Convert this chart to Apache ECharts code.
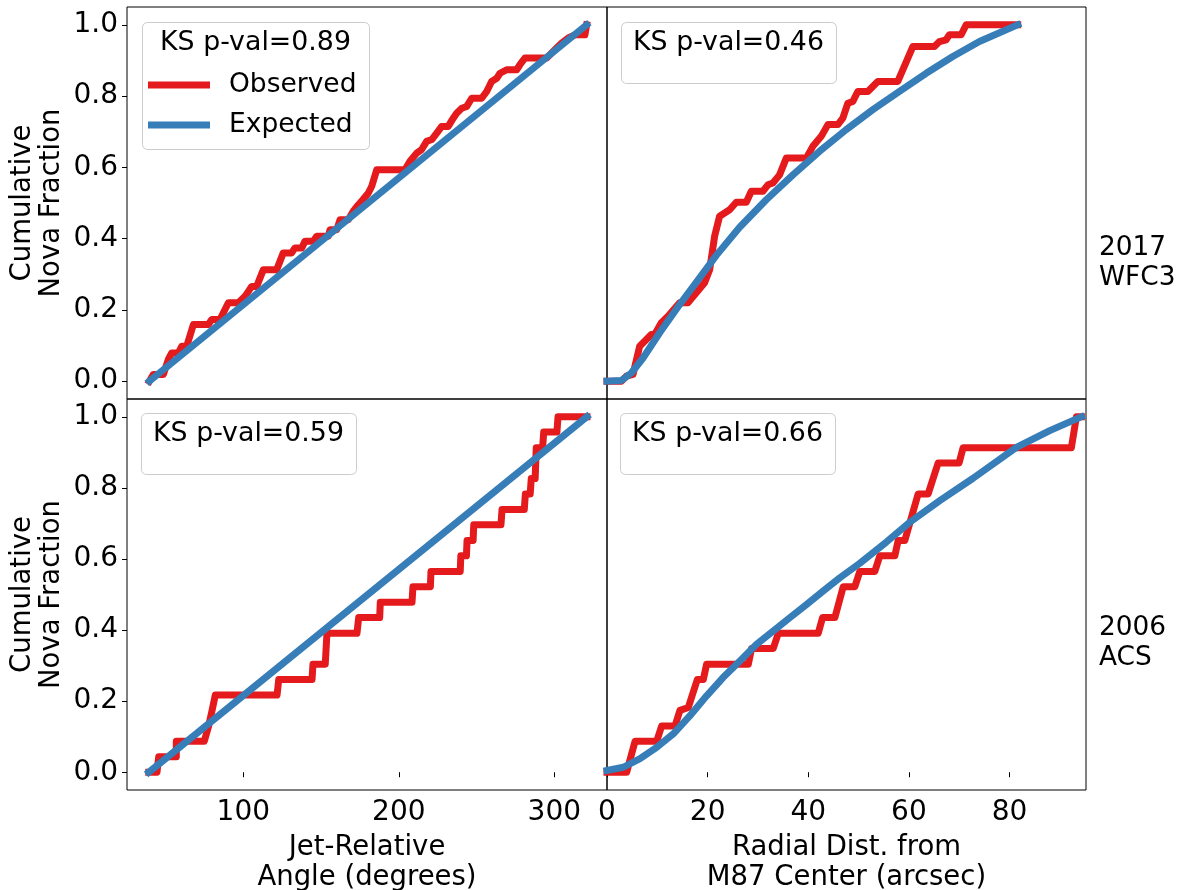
<!DOCTYPE html>
<html>
<head>
<meta charset="utf-8">
<script src="https://cdn.jsdelivr.net/npm/echarts@6/dist/echarts.min.js"></script>
<style>
  html, body { margin: 0; padding: 0; background: #fff; }
  #chart { width: 1179px; height: 890px; }
</style>
</head>
<body>
<div id="chart"></div>
<script>
// 2017 WFC3, jet-relative angle (degrees) vs cumulative fraction
var angleObs2017 = [[39.6,0],[42.1,0.019],[48.6,0.019],[51.8,0.061],[53.9,0.079],[58.2,0.079],[60.4,0.098],[63.6,0.098],
    [67.9,0.159],[77.5,0.159],[79.7,0.173],[85,0.173],[90.4,0.22],[96.8,0.22],[101.1,0.238],[105.4,0.266],[108.6,0.266],
    [112.9,0.313],[121.5,0.313],[125.7,0.36],[131.1,0.36],[133.2,0.374],[137.6,0.374],[139.7,0.393],[145,0.393],
    [147.2,0.407],[154.7,0.407],[155.8,0.425],[160.1,0.425],[162.2,0.453],[167.5,0.453],[170.7,0.477],[174,0.495],
    [176.1,0.505],[180.4,0.528],[182.6,0.547],[185.8,0.593],[204,0.593],[207.2,0.617],[211.5,0.64],[214.7,0.65],
    [217.9,0.673],[221.2,0.678],[224.4,0.696],[227.6,0.715],[231.8,0.715],[235,0.738],[237.2,0.752],[240.5,0.766],
    [243.7,0.771],[246.9,0.794],[253.3,0.794],[256.5,0.813],[259.7,0.841],[263,0.85],[265.1,0.864],[269.4,0.874],
    [275.8,0.874],[277.9,0.888],[281.2,0.907],[295.1,0.907],[298.3,0.921],[301.5,0.935],[304.8,0.949],[309,0.963],
    [313.3,0.972],[319.7,0.972],[320.8,1.0]];
var angleExp2017 = [[39.6,0],[320.8,1]];

// 2017 WFC3, radial distance (arcsec)
var distObs2017 = [[0,0],[2.85,0],[3.85,0.014],[5.17,0.019],[6.49,0.098],[7.49,0.112],[8.81,0.131],[9.47,0.131],
    [10.8,0.164],[12.12,0.182],[14.44,0.22],[16.09,0.22],[17.75,0.248],[19.4,0.276],[20.4,0.313],[21.39,0.407],
    [22.38,0.463],[23.38,0.472],[24.37,0.481],[25.7,0.502],[27.68,0.502],[28.68,0.533],[30.98,0.533],[31.98,0.551],
    [32.97,0.556],[34.3,0.579],[35.63,0.626],[39.6,0.626],[40.91,0.659],[42.58,0.687],[43.9,0.72],[45.88,0.72],
    [46.87,0.738],[47.87,0.78],[48.86,0.785],[49.85,0.813],[51.84,0.813],[53.82,0.841],[57.8,0.841],[60.78,0.939],
    [65.08,0.939],[66.08,0.953],[67.4,0.958],[68.06,0.972],[70.39,0.972],[71.38,1.0],[81.63,1.0]];
var distExp2017 = [[0,0],[2.85,0.002],[4.84,0.023],[7.16,0.065],[10.47,0.136],[14.44,0.215],[18.41,0.29],
    [21.72,0.353],[26.36,0.432],[31.65,0.509],[36.95,0.579],[42.24,0.645],[47.54,0.706],[52.84,0.762],
    [58.13,0.813],[63.43,0.864],[68.73,0.911],[74.02,0.953],[81.63,1.0]];

// 2006 ACS, jet-relative angle
var angleObs2006 = [[39.2,0],[44.5,0],[45.6,0.0435],[56.9,0.0435],[56.9,0.087],[74.9,0.087],[77.7,0.13],[79.9,0.174],
    [82,0.217],[121.7,0.217],[122.8,0.261],[144.2,0.261],[144.8,0.304],[152.7,0.304],[153.8,0.391],[173.1,0.391],
    [174.2,0.435],[187.7,0.435],[188.1,0.478],[208.5,0.478],[209.1,0.522],[220.3,0.522],[220.7,0.565],[239.5,0.565],
    [239.9,0.609],[243.5,0.609],[243.9,0.652],[247.8,0.652],[248.2,0.696],[265.7,0.696],[266.4,0.739],[280.7,0.739],
    [281.4,0.783],[284.5,0.783],[285.2,0.826],[287.7,0.826],[288.4,0.913],[292.5,0.913],[293.2,0.957],[301.7,0.957],
    [302.4,1.0],[321,1.0]];
var angleExp2006 = [[39.2,0],[321,1]];

// 2006 ACS, radial distance
var distObs2006 = [[0,0],[3.91,0],[5.57,0.087],[9.87,0.087],[10.86,0.13],[13.51,0.13],[14.5,0.174],[16.16,0.182],
    [17.95,0.261],[19.14,0.261],[19.8,0.304],[28.08,0.304],[28.74,0.348],[33.04,0.348],[34.04,0.391],[41.98,0.391],
    [42.84,0.435],[45.29,0.435],[46.95,0.522],[49.26,0.522],[50.25,0.565],[53.23,0.565],[54.23,0.609],[57.21,0.609],
    [57.87,0.652],[59.19,0.652],[61.84,0.783],[63.83,0.783],[65.81,0.87],[69.98,0.87],[70.78,0.913],[92.29,0.913],
    [93.29,1.0],[94.28,1.0]];
var distExp2006 = [[0,0.005],[3.25,0.014],[6.56,0.038],[9.87,0.07],[13.18,0.108],[16.49,0.159],[19.8,0.215],
    [23.11,0.267],[26.42,0.313],[29.73,0.36],[33.04,0.397],[36.35,0.435],[39.66,0.472],[42.97,0.51],
    [46.28,0.547],[50.25,0.588],[55.55,0.648],[60.25,0.704],[66.14,0.764],[72.76,0.827],[81.37,0.914],
    [87.99,0.961],[94.28,1.0]];

// tick labels
var angleTicks = [100, 200, 300];
var distTicks = [0, 20, 40, 60, 80];
var fracTicks = [0, 0.2, 0.4, 0.6, 0.8, 1.0];

// panel texts
var ksPvals = ['0.89', '0.46', '0.59', '0.66'];
var rowLabels = ['2017\nWFC3', '2006\nACS'];

var FONT = 'DejaVu Sans';
var RED = '#e41a1c';
var BLUE = '#377eb8';

var grids = [
    {left: 127, top: 7, width: 480, height: 392},
    {left: 607, top: 7, width: 479, height: 392},
    {left: 127, top: 399, width: 480, height: 391},
    {left: 607, top: 399, width: 479, height: 391}
];

function xAxisFor(i) {
    var isAngle = (i % 2 === 0);
    var bottom = (i >= 2);
    return {
        type: 'value',
        gridIndex: i,
        min: isAngle ? 25.2 : 0,
        max: isAngle ? 333.9 : 95.2,
        splitLine: {show: false},
        axisLine: {show: false},
        axisTick: {show: bottom, length: 5, customValues: isAngle ? angleTicks : distTicks,
            lineStyle: {color: '#000', width: 1}},
        axisLabel: {show: bottom, customValues: isAngle ? angleTicks : distTicks, margin: 9,
            fontFamily: FONT, fontSize: 28, color: '#000'},
        name: bottom ? (isAngle ? 'Jet-Relative\nAngle (degrees)' : 'Radial Dist. from\nM87 Center (arcsec)') : '',
        nameLocation: 'middle',
        nameGap: 43,
        nameTextStyle: {fontFamily: FONT, fontSize: 27.5, color: '#000', lineHeight: 30}
    };
}

function yAxisFor(i) {
    var left = (i % 2 === 0);
    return {
        type: 'value',
        gridIndex: i,
        min: -0.05,
        max: 1.05,
        splitLine: {show: false},
        axisLine: {show: false},
        axisTick: {show: left, length: 5, customValues: fracTicks, lineStyle: {color: '#000', width: 1}},
        axisLabel: {show: left, customValues: fracTicks, margin: 9, fontFamily: FONT, fontSize: 28, color: '#000',
            formatter: function(v) { return v.toFixed(1); }},
        name: left ? 'Cumulative\nNova Fraction' : '',
        nameLocation: 'middle',
        nameGap: 61,
        nameTextStyle: {fontFamily: FONT, fontSize: 27.5, color: '#000', lineHeight: 29}
    };
}

function lineSeries(name, data, i, color, z) {
    return {
        name: name,
        type: 'line',
        xAxisIndex: i,
        yAxisIndex: i,
        data: data,
        symbol: 'none',
        clip: false,
        z: z,
        color: color,
        lineStyle: {color: color, width: 7, cap: 'square', join: 'round'}
    };
}

// legend frames and KS texts
var boxes = [
    {x: 142, y: 22, w: 227, h: 127, tx: 255.5, ty: 43},
    {x: 621, y: 22, w: 215, h: 61, tx: 728.5, ty: 43},
    {x: 141, y: 413, w: 215, h: 61, tx: 248.5, ty: 434},
    {x: 620, y: 413, w: 215, h: 61, tx: 727.5, ty: 434}
];
var graphics = [];
boxes.forEach(function(b, i) {
    graphics.push({
        type: 'rect', z: 5,
        shape: {x: b.x + 0.5, y: b.y + 0.5, width: b.w, height: b.h, r: 5},
        style: {fill: 'rgba(255,255,255,0.8)', stroke: '#cccccc', lineWidth: 1}
    });
    graphics.push({
        type: 'text', z: 6, x: b.tx, y: b.ty,
        style: {text: 'KS p-val=' + ksPvals[i], fill: '#000', font: '26.8px "' + FONT + '"',
            textAlign: 'center', textVerticalAlign: 'middle'}
    });
});
rowLabels.forEach(function(t, i) {
    graphics.push({
        type: 'text', z: 6, x: 1099, y: i === 0 ? 263 : 643,
        style: {text: t, fill: '#000', font: '26.4px "' + FONT + '"', lineHeight: 30,
            textAlign: 'left', textVerticalAlign: 'middle'}
    });
});

var chart = echarts.init(document.getElementById('chart'), null, {renderer: 'canvas'});
chart.setOption({
    animation: false,
    backgroundColor: '#fff',
    grid: grids.map(function(g) {
        return {left: g.left, top: g.top, width: g.width, height: g.height, show: true,
            outerBoundsMode: 'none', containLabel: false,
            borderColor: '#000', borderWidth: 1, backgroundColor: 'transparent'};
    }),
    xAxis: [0, 1, 2, 3].map(xAxisFor),
    yAxis: [0, 1, 2, 3].map(yAxisFor),
    legend: {
        data: ['Observed', 'Expected'],
        orient: 'vertical',
        left: 148,
        top: 70,
        padding: 0,
        itemGap: 10,
        itemWidth: 62,
        itemHeight: 7,
        icon: 'rect',
        z: 7,
        selectedMode: false,
        textStyle: {fontFamily: FONT, fontSize: 26.5, color: '#000', lineHeight: 30, padding: [0, 0, 0, 14]}
    },
    graphic: graphics,
    series: [
        lineSeries('Observed', angleObs2017, 0, RED, 2),
        lineSeries('Expected', angleExp2017, 0, BLUE, 3),
        lineSeries('Observed', distObs2017, 1, RED, 2),
        lineSeries('Expected', distExp2017, 1, BLUE, 3),
        lineSeries('Observed', angleObs2006, 2, RED, 2),
        lineSeries('Expected', angleExp2006, 2, BLUE, 3),
        lineSeries('Observed', distObs2006, 3, RED, 2),
        lineSeries('Expected', distExp2006, 3, BLUE, 3)
    ]
});
</script>
</body>
</html>
